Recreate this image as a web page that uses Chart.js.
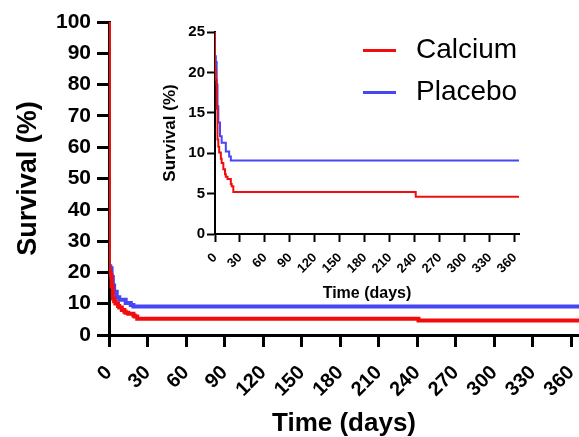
<!DOCTYPE html>
<html>
<head>
<meta charset="utf-8">
<script src="https://cdn.jsdelivr.net/npm/chart.js@4/dist/chart.umd.min.js"></script>
<style>
  body { margin: 0; background: #fff; }
  #wrap { position: relative; width: 579px; height: 437px; }
  #inset { position: absolute; left: 150px; top: 10px; }
  .key { position: absolute; font-family: "Liberation Sans", Arial, sans-serif; font-size: 28px; color: #000; line-height: 30px; }
  .swatch { position: absolute; width: 33px; height: 3px; }
</style>
</head>
<body>
<div id="wrap">
  <canvas id="mainChart" width="579" height="437"></canvas>
  <canvas id="inset" width="380" height="300"></canvas>
  <div id="legend"></div>
</div>
<script>
// Kaplan-Meier curves (day, survival %)
var seriesNames = ["Calcium", "Placebo"];
var seriesColors = ["#f20d0d", "#4646f5"];

var calciumDays     = [0,   0,    1,    2,    3,    4,    5,    7,   8,   10,  12,  13,  15,  19,  20,  22,  241, 366];
var calciumSurvival = [100, 20.5, 19.1, 15.5, 11.7, 10.8, 10.1, 9.3, 8.8, 8.0, 7.4, 7.1, 6.8, 6.2, 5.9, 5.2, 4.6, 4.6];

var placeboDays     = [0,   0,  1,    2,    3,    4,    6,    8,    13,   17,  19,  366];
var placeboSurvival = [100, 22, 21.3, 18.5, 15.8, 13.8, 12.1, 11.3, 10.2, 9.6, 9.1, 9.1];

var dayTicks = [0, 30, 60, 90, 120, 150, 180, 210, 240, 270, 300, 330, 360];
var mainYTicks = [0, 10, 20, 30, 40, 50, 60, 70, 80, 90, 100];
var insetYTicks = [0, 5, 10, 15, 20, 25];

var FONT = "'Liberation Sans', Arial, sans-serif";

function points(days, vals) {
  return days.map(function (d, i) { return { x: d, y: vals[i] }; });
}

// survival holds until the next event, then drops
function datasets(width) {
  return [
    { label: seriesNames[0], data: points(calciumDays, calciumSurvival), borderColor: seriesColors[0], borderWidth: width, stepped: "before", pointRadius: 0, fill: false },
    { label: seriesNames[1], data: points(placeboDays, placeboSurvival), borderColor: seriesColors[1], borderWidth: width, stepped: "before", pointRadius: 0, fill: false },
  ];
}

function setTicks(list) {
  return function (scale) { scale.ticks = list.map(function (v) { return { value: v }; }); };
}

function axis(opts) {
  return {
    type: "linear",
    min: opts.min,
    max: opts.max,
    afterBuildTicks: setTicks(opts.ticks),
    afterFit: function (scale) {
      if (opts.width) scale.width = opts.width;
      if (opts.height) scale.height = opts.height;
      scale.paddingLeft = 0;
      scale.paddingRight = 0;
      scale.paddingTop = 0;
      scale.paddingBottom = 0;
    },
    border: { display: true, color: "#000", width: opts.line },
    grid: { drawOnChartArea: false, drawTicks: true, tickLength: opts.tickLen, tickWidth: opts.line, color: "#000" },
    ticks: {
      color: "#000",
      padding: opts.pad,
      autoSkip: false,
      maxRotation: opts.rot,
      minRotation: opts.rot,
      font: { family: FONT, size: opts.tickSize, weight: "bold" },
    },
    title: {
      display: true,
      text: opts.title,
      color: "#000",
      padding: opts.titlePad,
      font: { family: FONT, size: opts.titleSize, weight: "bold" },
    },
  };
}

// Main chart
var mainCtx = document.getElementById("mainChart").getContext("2d");
var mainChart = new Chart(mainCtx, {
  type: "line",
  data: { datasets: datasets(4) },
  options: {
    responsive: false,
    animation: false,
    layout: { padding: { top: 22, right: 0, bottom: 0, left: 0 } },
    plugins: { legend: { display: false }, tooltip: { enabled: false } },
    scales: {
      x: axis({ min: 0, max: 366, ticks: dayTicks, height: 102, line: 3, tickLen: 12, pad: 14, rot: 45, tickSize: 20,
                title: "Time (days)", titleSize: 26, titlePad: { top: 0, bottom: -2 } }),
      y: axis({ min: 0, max: 100, ticks: mainYTicks, width: 109, line: 3, tickLen: 12, pad: 6, rot: 0, tickSize: 21,
                title: "Survival (%)", titleSize: 27, titlePad: { top: 12, bottom: 0 } }),
    },
  },
});

// Inset, zoomed to 0-25 %
var insetCtx = document.getElementById("inset").getContext("2d");
var insetChart = new Chart(insetCtx, {
  type: "line",
  data: { datasets: datasets(2) },
  options: {
    responsive: false,
    animation: false,
    layout: { padding: { top: 22, right: 11, bottom: 0, left: 0 } },
    plugins: { legend: { display: false }, tooltip: { enabled: false } },
    scales: {
      x: axis({ min: 0, max: 365, ticks: dayTicks, height: 76, line: 2, tickLen: 8, pad: 8, rot: 45, tickSize: 13,
                title: "Time (days)", titleSize: 16, titlePad: { top: 0, bottom: 7 } }),
      y: axis({ min: 0, max: 25, ticks: insetYTicks, width: 65, line: 2, tickLen: 8, pad: 2, rot: 0, tickSize: 15,
                title: "Survival (%)", titleSize: 17, titlePad: { top: 10, bottom: 0 } }),
    },
  },
});

// Legend
var legend = document.getElementById("legend");
seriesNames.forEach(function (name, i) {
  var cy = 50 + i * 42;
  var sw = document.createElement("div");
  sw.className = "swatch";
  sw.style.left = "363px";
  sw.style.top = (cy - 1.5) + "px";
  sw.style.background = seriesColors[i];
  legend.appendChild(sw);
  var tx = document.createElement("div");
  tx.className = "key";
  tx.style.left = "416px";
  tx.style.top = (cy - 16) + "px";
  tx.textContent = name;
  legend.appendChild(tx);
});
</script>
</body>
</html>
